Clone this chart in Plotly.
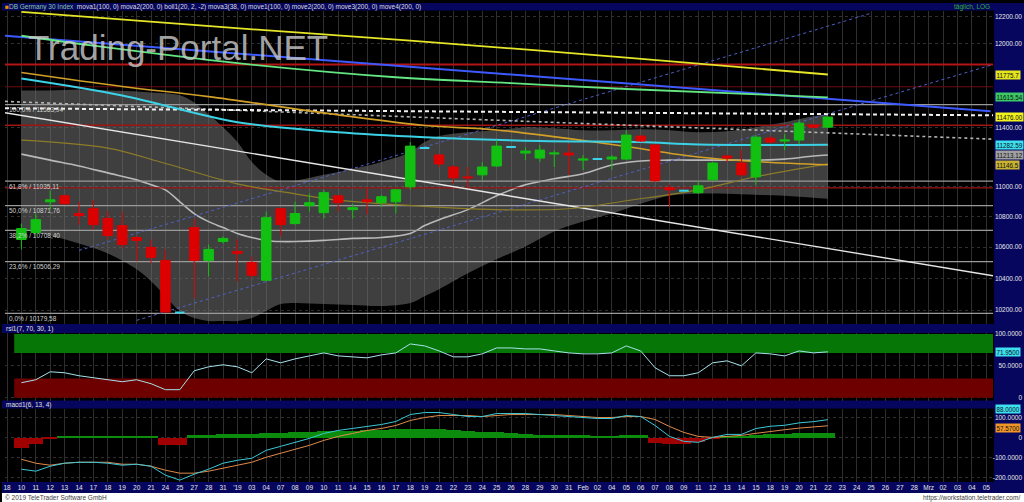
import math
import plotly.graph_objects as go

W, H = 1024, 502
FONT = "Liberation Sans"
NAVY = "#06065e"

# ---------------- data ----------------
date_labels = ["18", "10", "11", "12", "13", "14", "17", "18", "19", "20", "21", "24", "25", "27", "28", "31",
               "'19", "03", "04", "07", "08", "09", "10", "11", "14", "15", "16", "17", "18", "19", "21", "22",
               "23", "24", "25", "26", "28", "29", "30", "31", "Feb", "02", "04", "05", "06", "07", "08", "09",
               "11", "12", "13", "14", "15", "18", "19", "20", "21", "22", "23", "24", "25", "26", "27", "28",
               "Mrz", "02", "03", "04", "05"]

candle_slot = list(range(1, 58))
open_p = [10649, 10695, 10897, 10937, 10819, 10851, 10786, 10740, 10662, 10598,
          10514, 10185, 10727, 10514, 10636, 10572, 10501, 10387, 10851, 10753,
          10871, 10825, 10937, 10845, 10910, 10891, 10897, 10997, 11261, 11213,
          11131, 11064, 11078, 11138, 11267, 11226, 11192, 11220, 11226, 11178,
          11185, 11185, 11185, 11343, 11281, 10991, 10971, 10958, 11044, 11206,
          11158, 11064, 11329, 11309, 11316, 11419, 11405]
high_p = [10753, 10819, 10971, 10944, 10897, 10910, 10838, 10832, 10669, 10649,
          10585, 10185, 10786, 10617, 10669, 10649, 10540, 10832, 10851, 10897,
          10951, 10977, 10944, 10884, 10984, 10944, 10977, 11302, 11261, 11220,
          11145, 11131, 11165, 11316, 11267, 11267, 11281, 11247, 11288, 11213,
          11185, 11213, 11384, 11350, 11288, 11011, 10971, 11038, 11165, 11213,
          11247, 11350, 11343, 11357, 11454, 11426, 11481]
low_p = [10585, 10682, 10845, 10877, 10746, 10714, 10649, 10591, 10508, 10495,
         10182, 10185, 10274, 10413, 10623, 10381, 10400, 10381, 10669, 10746,
         10832, 10786, 10832, 10786, 10812, 10864, 10819, 10977, 11261, 11131,
         11018, 10997, 11044, 11131, 11267, 11178, 11165, 11131, 11078, 11111,
         11185, 11111, 11178, 11302, 11031, 10864, 10971, 10951, 11038, 11165,
         11064, 11011, 11295, 11247, 11288, 11398, 11398]
close_p = [10720, 10779, 10910, 10884, 10805, 10746, 10675, 10617, 10643, 10534,
           10188, 10185, 10514, 10585, 10656, 10559, 10419, 10792, 10746, 10819,
           10891, 10958, 10891, 10858, 10897, 10931, 10977, 11274, 11261, 11152,
           11058, 11058, 11131, 11274, 11267, 11240, 11247, 11226, 11213, 11185,
           11185, 11199, 11350, 11309, 11038, 10977, 10971, 11004, 11158, 11192,
           11078, 11336, 11302, 11316, 11433, 11405, 11476]

# Bollinger band (20, 2)
boll_slot = [1, 3, 5, 7, 9, 10, 11, 12, 13, 14, 15, 16, 17, 18, 19, 20, 22, 24, 26, 28, 29, 30, 32, 34, 36,
             38, 40, 42, 44, 46, 48, 50, 52, 54, 56, 57]
boll_upper = [11664, 11664, 11671, 11664, 11657, 11650, 11643, 11629, 11579, 11495, 11405, 11302, 11165, 11078,
              11031, 11038, 11078, 11118, 11165, 11233, 11302, 11343, 11370, 11384, 11405, 11398, 11384, 11384,
              11391, 11384, 11370, 11377, 11405, 11440, 11481, 11495]
boll_lower = [10714, 10675, 10623, 10559, 10457, 10381, 10287, 10194, 10150, 10132, 10132, 10132, 10150, 10194,
              10237, 10244, 10237, 10231, 10225, 10244, 10287, 10331, 10432, 10521, 10604, 10701, 10766, 10819,
              10884, 10937, 10951, 10951, 10944, 10937, 10924, 10917]
boll_mid = [11219, 11178, 11138, 11091, 11044, 11011, 10977, 10897, 10819, 10766, 10727, 10688, 10662, 10643,
            10636, 10636, 10643, 10656, 10662, 10688, 10740, 10779, 10845, 10937, 11011, 11051, 11085, 11145,
            11172, 11178, 11178, 11178, 11178, 11185, 11206, 11213]

# moving averages
ma_yellow_slot = [1, 15, 28, 43, 57]
ma_yellow = [12237, 12123, 12024, 11900, 11778]
ma_green_slot = [1, 6, 16, 27, 35, 43, 57]
ma_green = [12060, 11987, 11860, 11758, 11716, 11674, 11615]
ma_cyan_slot = [1, 8, 16, 23, 29, 37, 44, 48, 57]
ma_cyan = [11749, 11628, 11440, 11370, 11336, 11309, 11302, 11285, 11283]
ma_orange_slot = [1, 8, 14, 23, 29, 34, 42, 48, 52, 57]
ma_orange = [11792, 11692, 11620, 11491, 11417, 11386, 11285, 11199, 11168, 11146]
ma_olive_slot = [1, 7, 11, 16, 20, 23, 27, 34, 39, 43, 48, 52, 57]
ma_olive = [11315, 11260, 11155, 11017, 10950, 10908, 10878, 10845, 10851, 10904, 10977, 11065, 11152]

# trend lines (slot, price pairs)
X_LO, X_HI = -0.14, 68.47
trend_blue_slot = [X_LO, 68.3]
trend_blue = [12060, 11516]
trend_white_slot = [X_LO, X_HI]
trend_white = [11506, 10416]
trend_dotted_slot = [X_LO, X_HI]
trend_dotted = [11586, 11322]
trend_dashed_slot = [X_LO, X_HI]
trend_dashed = [11537, 11488]
channel_low_slot = [9, X_HI]
channel_low = [10136, 11850]
channel_up_slot = [5, 60]
channel_up = [10578, 12227]

# horizontal levels
red_levels = [11850, 11690, 11418, 10990]
red_widths = [2.2, 1.0, 1.4, 1.4]
red_colors = ["#b41414", "#6e0c0c", "#a01414", "#a01414"]
fib_pct = ["0,0%", "23,6%", "38,2%", "50,0%", "61,8%", "100,0%"]
fib_val = [10179.58, 10506.29, 10708.40, 10871.76, 11035.11, 11563.94]

price_ticks = [10200, 10400, 10600, 10800, 11000, 11400, 12000, 12200]

# right-edge value labels
tag_vals = [11775.7, 11615.54, 11476.00, 11282.59, 11213.12, 11146.5]
tag_text = ["11775.7", "11615.54", "11476.00", "11282.59", "11213.12", "11146.5"]
tag_colors = ["#e6e61e", "#3cc864", "#f2f21e", "#3ce0f0", "#a0a0a0", "#c8b432"]

# RSI (7)
rsi = [23.4, 28.1, 40.6, 39.1, 34.4, 31.3, 28.1, 25.0, 28.1, 21.9,
       12.5, 12.5, 42.2, 48.4, 51.6, 48.4, 39.1, 60.9, 54.7, 60.9,
       65.6, 70.3, 65.6, 64.1, 62.5, 67.2, 70.3, 84.4, 81.3, 73.4,
       64.1, 64.1, 68.8, 78.1, 78.1, 76.6, 76.6, 73.4, 70.3, 68.8,
       68.8, 70.3, 81.3, 73.4, 46.9, 34.4, 34.4, 39.1, 54.7, 57.8,
       50.0, 70.3, 68.8, 65.6, 73.4, 70.3, 71.95]
rsi_upper, rsi_lower = 70, 30

# MACD (6, 13, 4)
macd = [-157.6, -167.5, -142.9, -128.1, -123.2, -123.2, -128.1, -137.9, -133.0, -142.9,
        -187.2, -211.8, -182.3, -157.6, -128.1, -113.3, -103.4, -64.0, -44.3, -24.6,
        -4.9, 19.7, 34.5, 44.3, 54.2, 64.0, 78.8, 113.3, 123.2, 123.2,
        113.3, 103.4, 103.4, 118.2, 118.2, 118.2, 113.3, 108.4, 103.4, 98.5,
        93.6, 93.6, 108.4, 103.4, 59.1, 4.9, -19.7, -24.6, 0.0, 14.8,
        14.8, 44.0, 55.0, 60.0, 72.0, 78.0, 88.0]
signal = [-108.4, -128.1, -137.9, -128.1, -123.2, -123.2, -123.2, -133.0, -133.0, -142.9,
          -162.6, -177.3, -177.3, -167.5, -152.7, -137.9, -123.2, -98.5, -78.8, -59.1,
          -39.4, -14.8, 4.9, 19.7, 34.5, 44.3, 59.1, 83.7, 98.5, 108.4,
          108.4, 108.4, 103.4, 108.4, 113.3, 113.3, 113.3, 113.3, 108.4, 103.4,
          98.5, 98.5, 103.4, 103.4, 88.7, 54.2, 24.6, 4.9, 0.0, 4.9,
          9.9, 20.0, 30.0, 38.0, 46.0, 52.0, 57.57]
macd_hist = [-50, -30, -3, 10, 10, 10, 10, 10, 10, 10,
             -35, -35, 15, 15, 18, 20, 20, 25, 25, 28,
             30, 32, 35, 35, 40, 40, 42, 45, 45, 45,
             40, 35, 30, 30, 25, 18, 15, 15, 12, 12,
             10, 10, 15, 12, -25, -30, -30, -20, -5, 5,
             5, 15, 18, 20, 22, 25, 25]

# ---------------- helpers (layout positions in pixels) ----------------
def px(x):
    return x / W


def py(y):
    return 1 - y / H


fig = go.Figure()

# Bollinger band fill
fig.add_trace(go.Scatter(x=boll_slot, y=boll_lower, mode="lines", line=dict(width=0, shape="spline"),
                         hoverinfo="skip", showlegend=False))
fig.add_trace(go.Scatter(x=boll_slot, y=boll_upper, mode="lines", line=dict(width=0, shape="spline"),
                         fill="tonexty", fillcolor="rgba(112,112,112,0.56)", hoverinfo="skip", showlegend=False))
fig.add_trace(go.Scatter(x=boll_slot, y=boll_mid, mode="lines", line=dict(width=1.6, color="#b9b9b9", shape="spline"),
                         showlegend=False))

# fib lines
for v in fib_val:
    fig.add_trace(go.Scatter(x=[X_LO, X_HI], y=[v, v], mode="lines", line=dict(width=1.2, color="#9a9a9a"),
                             showlegend=False))
# red horizontal levels
for v, w, c in zip(red_levels, red_widths, red_colors):
    fig.add_trace(go.Scatter(x=[X_LO, X_HI], y=[v, v], mode="lines", line=dict(width=w, color=c), showlegend=False))

# trend lines
fig.add_trace(go.Scatter(x=channel_low_slot, y=channel_low, mode="lines",
                         line=dict(width=1, color="#5060c8", dash="dot"), showlegend=False))
fig.add_trace(go.Scatter(x=channel_up_slot, y=channel_up, mode="lines",
                         line=dict(width=1, color="#5060c8", dash="dot"), showlegend=False))
fig.add_trace(go.Scatter(x=trend_white_slot, y=trend_white, mode="lines",
                         line=dict(width=1.4, color="#e6e6e6"), showlegend=False))
fig.add_trace(go.Scatter(x=trend_dotted_slot, y=trend_dotted, mode="lines",
                         line=dict(width=1.6, color="#b4b4b4", dash="dot"), showlegend=False))
fig.add_trace(go.Scatter(x=trend_dashed_slot, y=trend_dashed, mode="lines",
                         line=dict(width=2, color="#f0f0f0", dash="4px,3px"), showlegend=False))
fig.add_trace(go.Scatter(x=trend_blue_slot, y=trend_blue, mode="lines",
                         line=dict(width=2, color="#3c5aff"), showlegend=False))

# moving averages
for xs, ys, col, w in [(ma_olive_slot, ma_olive, "#8c7c28", 1.2),
                       (ma_orange_slot, ma_orange, "#d2a028", 1.6),
                       (ma_cyan_slot, ma_cyan, "#3cd2e6", 2),
                       (ma_green_slot, ma_green, "#64e682", 1.8),
                       (ma_yellow_slot, ma_yellow, "#e6e628", 1.8)]:
    fig.add_trace(go.Scatter(x=xs, y=ys, mode="lines", line=dict(width=w, color=col, shape="spline"),
                             showlegend=False))

# candles (on overlaying axis so they sit above lines)
flat = [o == h == l == c for o, h, l, c in zip(open_p, high_p, low_p, close_p)]


def pick(arr, want):
    return [a for a, f in zip(arr, flat) if f == want]


fig.add_trace(go.Candlestick(x=pick(candle_slot, False), open=pick(open_p, False), high=pick(high_p, False),
                             low=pick(low_p, False), close=pick(close_p, False), yaxis="y4",
                             increasing=dict(line=dict(color="#12c012", width=1), fillcolor="#12c012"),
                             decreasing=dict(line=dict(color="#dc0000", width=1), fillcolor="#dc0000"),
                             whiskerwidth=0, showlegend=False))
fig.add_trace(go.Candlestick(x=pick(candle_slot, True), open=pick(open_p, True), high=pick(high_p, True),
                             low=pick(low_p, True), close=pick(close_p, True), yaxis="y4",
                             increasing=dict(line=dict(color="#3cd2e6", width=2), fillcolor="#3cd2e6"),
                             decreasing=dict(line=dict(color="#3cd2e6", width=2), fillcolor="#3cd2e6"),
                             whiskerwidth=0, showlegend=False))

# RSI
fig.add_trace(go.Scatter(x=candle_slot, y=rsi, xaxis="x2", yaxis="y2", mode="lines",
                         line=dict(width=1, color="#a6e2ea"), showlegend=False))
# MACD
fig.add_trace(go.Bar(x=candle_slot, y=macd_hist, xaxis="x3", yaxis="y3", width=1,
                     marker=dict(color=["#0c8c0c" if v >= 0 else "#a00000" for v in macd_hist], line=dict(width=0)),
                     showlegend=False))
fig.add_trace(go.Scatter(x=candle_slot, y=signal, xaxis="x3", yaxis="y3", mode="lines",
                         line=dict(width=1, color="#e08a4a"), showlegend=False))
fig.add_trace(go.Scatter(x=candle_slot, y=macd, xaxis="x3", yaxis="y3", mode="lines",
                         line=dict(width=1, color="#3cc8d8"), showlegend=False))

# ---------------- layout ----------------
shapes = []


def rect(x0, y0, x1, y1, color, layer="below"):
    shapes.append(dict(type="rect", xref="paper", yref="paper", x0=px(x0), x1=px(x1), y0=py(y1), y1=py(y0),
                       fillcolor=color, line=dict(width=0), layer=layer))


rect(0, 0, 1024, 7.5, NAVY)
rect(994, 0, 1024, 493, NAVY)
rect(0, 323, 994, 332, NAVY)
rect(0, 400, 994, 408, NAVY)
rect(0, 482, 1024, 493, NAVY)
rect(0, 493, 1024, 502, "#ffffff")
# RSI zones
shapes.append(dict(type="rect", xref="x2", yref="y2", x0=candle_slot[0] - 0.5, x1=X_HI, y0=rsi_upper, y1=100,
                   fillcolor="#067606", line=dict(width=0), layer="between"))
shapes.append(dict(type="rect", xref="x2", yref="y2", x0=candle_slot[0] - 0.5, x1=X_HI, y0=0, y1=rsi_lower,
                   fillcolor="#6e0000", line=dict(width=0), layer="between"))

ann = []
small = dict(family=FONT, size=6.5, color="#e0e0e0")
tagfont = dict(family=FONT, size=6.3, color="#101010")
ann.append(dict(xref="paper", yref="paper", x=px(1), y=py(4), xanchor="left", yanchor="middle", showarrow=False,
                font=dict(family=FONT, size=6.5, color="#dcdcdc"),
                text='<span style="color:#f08c00">■</span><span style="color:#8cc8a0">DB Germany 30 Index</span>  '
                     'mova1(100, 0) mova2(200, 0) boll1(20, 2, -2) mova3(38, 0) move1(100, 0) move2(200, 0) '
                     'move3(200, 0) move4(200, 0)'))
ann.append(dict(xref="paper", yref="paper", x=px(992), y=py(4), xanchor="right", yanchor="middle", showarrow=False,
                font=dict(family=FONT, size=6.5, color="#32b432"), text="täglich, LOG"))
ann.append(dict(xref="paper", yref="paper", x=px(176), y=py(45), xanchor="center", yanchor="middle", showarrow=False,
                font=dict(family=FONT, size=35, color="rgba(205,205,205,0.8)"), text="Trading-Portal.NET"))
ann.append(dict(xref="paper", yref="paper", x=px(2), y=py(327.5), xanchor="left", yanchor="middle", showarrow=False,
                font=small, text="rsi1(7, 70, 30, 1)"))
ann.append(dict(xref="paper", yref="paper", x=px(2), y=py(404), xanchor="left", yanchor="middle", showarrow=False,
                font=small, text="macd1(6, 13, 4)"))
ann.append(dict(xref="paper", yref="paper", x=px(1), y=py(497.5), xanchor="left", yanchor="middle", showarrow=False,
                font=dict(family=FONT, size=6.5, color="#404040"), text="© 2019 TeleTrader Software GmbH"))
ann.append(dict(xref="paper", yref="paper", x=px(1022), y=py(497.5), xanchor="right", yanchor="middle",
                showarrow=False, font=dict(family=FONT, size=6.5, color="#404040"),
                text="https://workstation.teletrader.com/"))
for p, v in zip(fib_pct, fib_val):
    ann.append(dict(xref="paper", yref="y", x=px(5), y=math.log10(v), xanchor="left", yanchor="middle", yshift=-5,
                    showarrow=False, font=dict(family=FONT, size=6.5, color="#d2d2d2"),
                    text=f"{p} / {v:.2f}".replace(".", ",")))
for v, t, c in zip(tag_vals, tag_text, tag_colors):
    ann.append(dict(xref="paper", yref="y", x=px(995), y=math.log10(v), xanchor="left", yanchor="middle",
                    showarrow=False, bgcolor=c, borderpad=0.5, font=tagfont, text=t))
ann.append(dict(xref="paper", yref="y2", x=px(995), y=rsi[-1], xanchor="left", yanchor="middle", showarrow=False,
                bgcolor="#3ce0f0", borderpad=0.5, font=tagfont, text=f"{rsi[-1]:.4f}"))
ann.append(dict(xref="paper", yref="y3", x=px(995), y=macd[-1], xanchor="left", yanchor="bottom", showarrow=False,
                bgcolor="#3ce0f0", borderpad=0.5, font=tagfont, text=f"{macd[-1]:.4f}", yshift=6))
ann.append(dict(xref="paper", yref="y3", x=px(995), y=signal[-1], xanchor="left", yanchor="top", showarrow=False,
                bgcolor="#f09628", borderpad=0.5, font=tagfont, text=f"{signal[-1]:.4f}", yshift=3))

xcommon = dict(range=[X_LO, X_HI], domain=[px(3), px(993)], tickmode="array", tickvals=list(range(len(date_labels))),
               showgrid=True, gridcolor="#2e2e2e", gridwidth=1, zeroline=False, showline=False, ticks="",
               fixedrange=True)
tickfont = dict(family=FONT, size=6.5, color="#e6e6e6")
ycommon = dict(anchor="free", side="left", position=px(1022), showline=False, ticks="", zeroline=False,
               tickfont=tickfont, showgrid=True, gridcolor="#303030", griddash="dot", fixedrange=True)

y_lo, y_hi = 10113, 12244
fig.update_layout(
    width=W, height=H, margin=dict(l=0, r=0, t=0, b=0),
    paper_bgcolor="#000000", plot_bgcolor="#000000",
    showlegend=False, boxgap=0.34, boxgroupgap=0, bargap=0,
    shapes=shapes, annotations=ann,
    xaxis=dict(**xcommon, anchor="y", showticklabels=False, rangeslider=dict(visible=False)),
    xaxis2=dict(**xcommon, anchor="y2", matches="x", showticklabels=False),
    xaxis3=dict(**xcommon, anchor="y3", matches="x", showticklabels=True, ticktext=date_labels, tickfont=tickfont),
    yaxis=dict(**ycommon, domain=[py(323), py(8)], type="log", range=[math.log10(y_lo), math.log10(y_hi)],
               tickvals=price_ticks, ticktext=[f"{v:.2f}" for v in price_ticks]),
    yaxis4=dict(overlaying="y", anchor="x", type="log", range=[math.log10(y_lo), math.log10(y_hi)], visible=False,
                fixedrange=True),
    yaxis2=dict(**ycommon, domain=[py(400), py(332)], range=[-4.69, 101.56], tickvals=[0, 50, 100],
                ticktext=["0", "50.0000", "100.0000"]),
    yaxis3=dict(**ycommon, domain=[py(482), py(408)], range=[-221.7, 142.9], tickvals=[-200, -100, 0, 100],
                ticktext=["-200.0000", "-100.0000", "0", "100.0000"]),
)

fig.write_html("out.html", config={"displayModeBar": False},
               post_script="document.body.style.margin='0';document.body.style.overflow='hidden';")
